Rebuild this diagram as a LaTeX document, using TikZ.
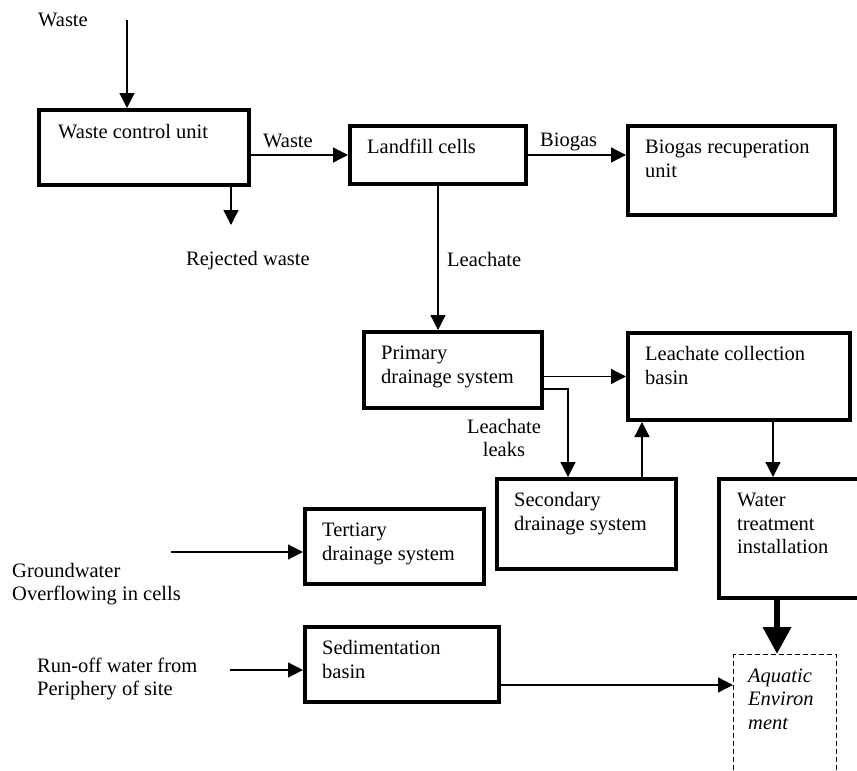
\documentclass[tikz,border=0pt]{standalone}
\usepackage{fontspec}
\setmainfont{Liberation Serif}
\usetikzlibrary{arrows.meta}
\newcommand\twol[2]{\vtop{\hbox{#1}\hbox{#2}}}
\newcommand\threel[3]{\vtop{\hbox{#1}\hbox{#2}\hbox{#3}}}
\newcommand\twoc[2]{\vtop{\halign{\hfil##\hfil\cr#1\cr#2\cr}}}
\begin{document}
\begin{tikzpicture}[x=1pt,y=-1pt,
  box/.style={draw, line width=4pt, inner sep=0pt, anchor=north west},
  dbox/.style={draw, line width=1.3pt, dash pattern=on 5pt off 3pt, inner sep=0pt, anchor=north west},
  txt/.style={inner sep=0pt, anchor=base west, font=\fontsize{20.5}{23.5}\selectfont},
  arr/.style={line width=1.3pt, -{Triangle[width=15pt,length=15pt]}},
  bigarr/.style={line width=6.5pt, -{Triangle[width=27pt,length=27pt]}}]
\useasboundingbox (0,0) rectangle (857,771);
\clip (0,0) rectangle (857,771);
% boxes
\node[box, minimum width=210pt, minimum height=75pt] (wcu) at (37,108) {};
\node[box, minimum width=176pt, minimum height=58pt] (lfc) at (348,124) {};
\node[box, minimum width=207pt, minimum height=89pt] (bru) at (626,124) {};
\node[box, minimum width=178pt, minimum height=76pt] (pds) at (362,330) {};
\node[box, minimum width=222pt, minimum height=87pt] (lcb) at (626,331) {};
\node[box, minimum width=179pt, minimum height=90pt] (sds) at (495,477) {};
\node[box, minimum width=150pt, minimum height=119pt] (wti) at (717,477) {};
\node[box, minimum width=179pt, minimum height=75pt] (tds) at (303,507) {};
\node[box, minimum width=194pt, minimum height=75pt] (sed) at (303,625) {};
\node[dbox, minimum width=103pt, minimum height=140pt] (aq) at (733,654) {};
% box texts
\node[txt] (twcu) at ([shift={(21,30)}]wcu.north west) {Waste control unit};
\node[txt] (tlfc) at ([shift={(19,29.5)}]lfc.north west) {Landfill cells};
\node[txt] (tbru) at ([shift={(19,29.5)}]bru.north west) {\twol{Biogas recuperation}{unit}};
\node[txt] (tpds) at ([shift={(19,29.5)}]pds.north west) {\twol{Primary}{drainage system}};
\node[txt] (tlcb) at ([shift={(19,29.5)}]lcb.north west) {\twol{Leachate collection}{basin}};
\node[txt] (tsds) at ([shift={(19,29.5)}]sds.north west) {\twol{Secondary}{drainage system}};
\node[txt] (twti) at ([shift={(20,29.5)}]wti.north west) {\threel{Water}{treatment}{installation}};
\node[txt] (ttds) at ([shift={(19,29.5)}]tds.north west) {\twol{Tertiary}{drainage system}};
\node[txt] (tsed) at ([shift={(19,29.5)}]sed.north west) {\twol{Sedimentation}{basin}};
\node[txt, font=\fontsize{20.5}{23.5}\selectfont\itshape] (taq) at ([shift={(15,28)}]aq.north west) {\threel{Aquatic}{Environ}{ment}};
% free labels
\node[txt] (lwaste) at (38,26) {Waste};
\node[txt] (lwaste2) at (263,147) {Waste};
\node[txt] (lbiogas) at (540,146) {Biogas};
\node[txt] (lleach) at (447,266) {Leachate};
\node[txt, anchor=base] (lleaks) at (504,433) {\twoc{Leachate}{leaks}};
\node[txt] (lrej) at (186,265) {Rejected waste};
\node[txt] (lgw) at (12,577) {\twol{Groundwater}{Overflowing in cells}};
\node[txt] (lro) at (37,672) {\twol{Run-off water from}{Periphery of site}};
% connectors
\coordinate (wastein) at (127,20);
\draw[arr] (wastein) -- (wastein |- wcu.north);
\coordinate (rej) at (231,225);
\draw[arr] (rej |- wcu.south) -- (rej);
\draw[arr] (wcu.east |- lfc.west) -- (lfc.west);
\draw[arr] (lfc.east) -- (lfc.east -| bru.west);
\draw[arr] (lfc.south) -- (lfc.south |- pds.north);
\draw[arr] (pds.east |- lcb.west) -- (lcb.west);
\coordinate (leak) at (568,389);
\draw[arr] (pds.east |- leak) -- (leak) -- (leak |- sds.north);
\coordinate (sdsup) at (642,0);
\draw[arr] (sdsup |- sds.north) -- (sdsup |- lcb.south);
\coordinate (lcbdn) at (773,0);
\draw[arr] (lcbdn |- lcb.south) -- (lcbdn |- wti.north);
\coordinate (wtidn) at (777,0);
\draw[bigarr] (wtidn |- wti.south) -- (wtidn |- aq.north);
\coordinate (gwin) at (171,552);
\draw[arr] (gwin) -- (gwin -| tds.west);
\coordinate (roin) at (230,670);
\draw[arr] (roin) -- (roin -| sed.west);
\coordinate (sedout) at (0,685);
\draw[arr] (sedout -| sed.east) -- (sedout -| aq.west);
\end{tikzpicture}
\end{document}
